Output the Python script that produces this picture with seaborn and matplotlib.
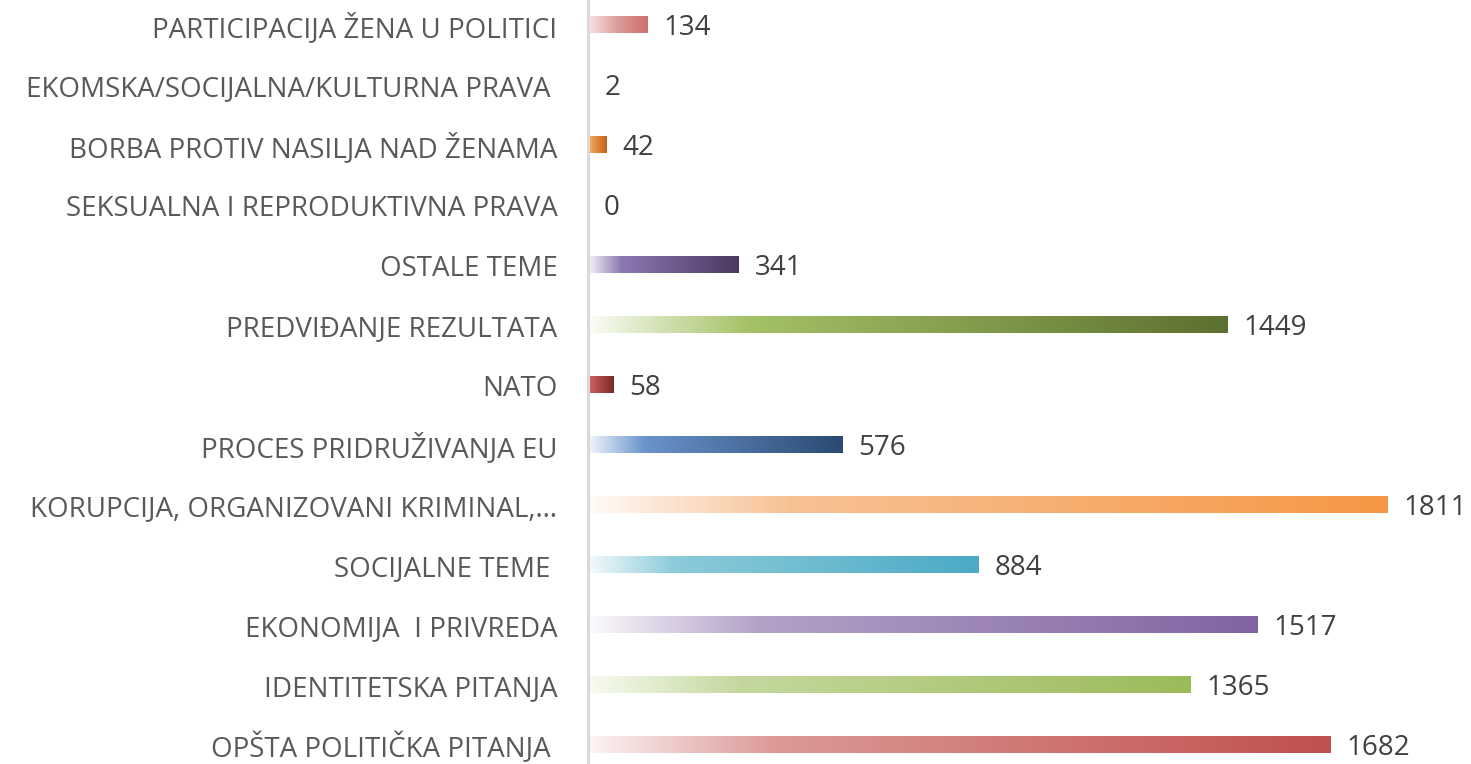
import matplotlib.pyplot as plt
import numpy as np
import pandas as pd
import seaborn as sns
from matplotlib.colors import LinearSegmentedColormap

categories = [
    "PARTICIPACIJA ŽENA U POLITICI",
    "EKOMSKA/SOCIJALNA/KULTURNA PRAVA ",
    "BORBA PROTIV NASILJA NAD ŽENAMA",
    "SEKSUALNA I REPRODUKTIVNA PRAVA",
    "OSTALE TEME",
    "PREDVIĐANJE REZULTATA",
    "NATO",
    "PROCES PRIDRUŽIVANJA EU",
    "KORUPCIJA, ORGANIZOVANI KRIMINAL,…",
    "SOCIJALNE TEME ",
    "EKONOMIJA  I PRIVREDA",
    "IDENTITETSKA PITANJA",
    "OPŠTA POLITIČKA PITANJA ",
]
values = [134, 2, 42, 0, 341, 1449, 58, 576, 1811, 884, 1517, 1365, 1682]

# gradient stops per bar: start, middle, end
grad_colors = [
    ("#f6e4e4", "#dc9c9b", "#cf6e6d"),
    ("#ffffff", "#d9d9d9", "#a6a6a6"),
    ("#f8b070", "#e08838", "#c0651c"),
    ("#ffffff", "#ffffff", "#ffffff"),
    ("#f4f2f8", "#8e78b4", "#4a3960"),
    ("#fafcf6", "#a4c266", "#5c7030"),
    ("#d06868", "#a84444", "#7a2a2a"),
    ("#f2f6fb", "#6a94cc", "#2a4a72"),
    ("#fffaf6", "#f8c296", "#f59744"),
    ("#f4fafc", "#8ccbda", "#4baac5"),
    ("#fbfafc", "#b4a2c8", "#8064a2"),
    ("#f8fbf2", "#c4d89e", "#9bbb59"),
    ("#fcf4f4", "#dc9a98", "#c0504d"),
]
mid_pos = [0.5, 0.5, 0.5, 0.5, 0.22, 0.25, 0.5, 0.22, 0.25, 0.22, 0.25, 0.25, 0.25]

df = pd.DataFrame({"tema": categories, "broj": values})

sns.set_style("white")
plt.rcParams["font.family"] = ["Open Sans", "DejaVu Sans"]

fig = plt.figure(figsize=(14.71, 7.64), dpi=100)
ax = fig.add_axes([588 / 1471, 0, 1 - 588 / 1471, 1])

sns.barplot(data=df, x="broj", y="tema", orient="h", color="white",
            width=0.27, ax=ax, edgecolor="none")

ylim = (12.31, -0.42)
ax.set_xlim(0, 2000)
ax.set_ylim(*ylim)

for i, patch in enumerate(ax.patches):
    x0, y0 = patch.get_x(), patch.get_y()
    w, h = patch.get_width(), patch.get_height()
    if w <= 0:
        continue
    c0, c1, c2 = grad_colors[i]
    cmap = LinearSegmentedColormap.from_list(
        f"g{i}", [(0, c0), (mid_pos[i], c1), (1, c2)])
    grad = np.linspace(0, 1, 256).reshape(1, -1)
    ax.imshow(grad, cmap=cmap, aspect="auto",
              extent=(x0, x0 + w, y0 + h, y0), zorder=2, interpolation="bilinear")

for i, v in enumerate(values):
    ax.text(v + 36, i + 0.05, str(v), va="center", ha="left",
            fontsize=20, color="#404040")

ax.set_xlabel("")
ax.set_ylabel("")
ax.set_xticks([])
ax.tick_params(axis="y", length=0, pad=22, labelsize=20, labelcolor="#595959")
for side in ["top", "right", "bottom"]:
    ax.spines[side].set_visible(False)
ax.spines["left"].set_color("#d9d9d9")
ax.spines["left"].set_linewidth(2.2)
ax.set_xlim(0, 2000)
ax.set_ylim(*ylim)

fig.savefig("out.png", dpi=100)
